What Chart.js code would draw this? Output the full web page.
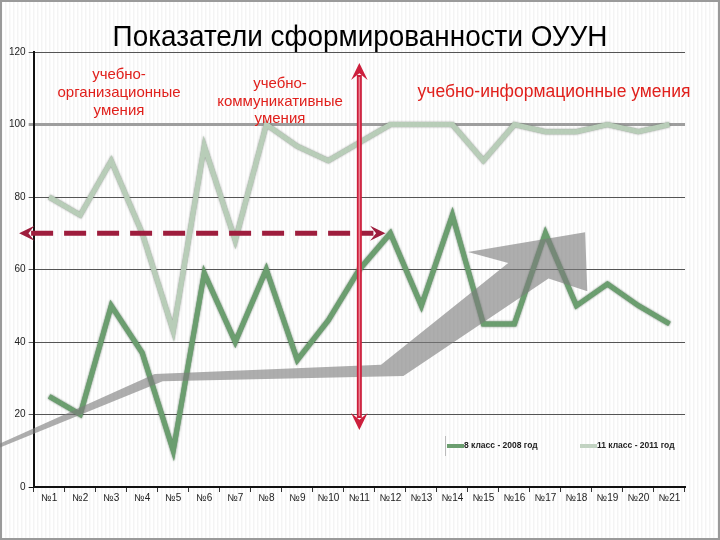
<!DOCTYPE html>
<html>
<head>
<meta charset="utf-8">
<script src="https://cdn.jsdelivr.net/npm/chart.js@4.4.0/dist/chart.umd.min.js"></script>
<style>
  html, body { margin: 0; padding: 0; background: #fff; }
  #wrap { width: 720px; height: 540px; position: relative; }
</style>
</head>
<body>
<div id="wrap"><canvas id="chart" width="720" height="540"></canvas></div>
<script>
const labels = ["№1","№2","№3","№4","№5","№6","№7","№8","№9","№10","№11","№12","№13","№14","№15","№16","№17","№18","№19","№20","№21"];
const grade8 = [25, 20, 50, 37, 10, 59, 40, 60, 35, 46, 60, 70, 50, 75, 45, 45, 70, 50, 56, 50, 45];
const grade11 = [80, 75, 90, 70, 43, 94, 68, 100, 94, 90, 95, 100, 100, 100, 90, 100, 98, 98, 100, 98, 100];
const yTicks = [0, 20, 40, 60, 80, 100, 120];
const title = "Показатели сформированности ОУУН";

// decorative arrow shapes, in [category index, value]
const growthArrow = [[-1.62, 11.9], [3.4, 31.2], [10.7, 33.7], [14.8, 61.8], [13.5, 64.8], [17.28, 70.3],
                     [17.35, 54.0], [16.1, 57.5], [11.42, 30.6], [3.66, 29.2], [-1.62, 10.8]];
const splitArrow = { x: 10, from: 15.7, to: 117 };
const levelArrow = { y: 70, from: -0.97, to: 10.84 };

const stripes = {
  id: "stripes",
  beforeDraw(chart) {
    const ctx = chart.ctx;
    ctx.save();
    ctx.fillStyle = "#fff";
    ctx.fillRect(0, 0, chart.width, chart.height);
    ctx.fillStyle = "rgba(0,0,0,0.045)";
    for (let x = 1; x < chart.width; x += 4) ctx.fillRect(x, 0, 1.5, chart.height);
    ctx.strokeStyle = "#9a9a9a";
    ctx.lineWidth = 2;
    ctx.strokeRect(1, 1, chart.width - 2, chart.height - 2);
    // title, condensed like the original
    ctx.fillStyle = "#000";
    ctx.font = "30px 'Liberation Sans', Arial, sans-serif";
    ctx.textAlign = "center";
    ctx.textBaseline = "alphabetic";
    ctx.translate(360, 46);
    ctx.scale(0.93, 1);
    ctx.fillText(title, 0, 0);
    ctx.restore();
  }
};

const lineShadow = {
  id: "lineShadow",
  beforeDatasetDraw(chart, args) {
    const ctx = chart.ctx;
    ctx.save();
    ctx.shadowColor = args.index === 0 ? "rgba(30,70,35,0.85)" : "rgba(90,100,90,0.75)";
    ctx.shadowBlur = 2;
  },
  afterDatasetDraw(chart) {
    chart.ctx.restore();
  }
};

function arrowHead(ctx, x, y, ang, size) {
  ctx.beginPath();
  ctx.moveTo(x, y);
  ctx.lineTo(x - size * Math.cos(ang - 0.45), y - size * Math.sin(ang - 0.45));
  ctx.lineTo(x - size * 0.55 * Math.cos(ang), y - size * 0.55 * Math.sin(ang));
  ctx.lineTo(x - size * Math.cos(ang + 0.45), y - size * Math.sin(ang + 0.45));
  ctx.closePath();
  ctx.fill();
}

const annotations = {
  id: "annotations",
  afterDatasetsDraw(chart) {
    const ctx = chart.ctx;
    const xs = chart.scales.x, ys = chart.scales.y;
    const px = i => xs.getPixelForValue(i);
    const py = v => ys.getPixelForValue(v);
    ctx.save();

    // grey growth arrow
    ctx.fillStyle = "rgba(125,125,125,0.62)";
    ctx.beginPath();
    growthArrow.forEach((p, i) => i ? ctx.lineTo(px(p[0]), py(p[1])) : ctx.moveTo(px(p[0]), py(p[1])));
    ctx.closePath();
    ctx.fill();

    // dashed level arrow
    const ly = py(levelArrow.y);
    const lx1 = px(levelArrow.from), lx2 = px(levelArrow.to);
    ctx.strokeStyle = "#9e1d3d";
    ctx.fillStyle = "#9e1d3d";
    ctx.lineWidth = 5;
    ctx.setLineDash([22, 11]);
    ctx.beginPath();
    ctx.moveTo(lx1 + 12, ly);
    ctx.lineTo(lx2 - 12, ly);
    ctx.stroke();
    ctx.setLineDash([]);
    arrowHead(ctx, lx1, ly, Math.PI, 17);
    arrowHead(ctx, lx2, ly, 0, 17);

    // vertical split arrow
    const vx = px(splitArrow.x);
    const vy1 = py(splitArrow.to), vy2 = py(splitArrow.from);
    ctx.strokeStyle = "#cc1f3c";
    ctx.fillStyle = "#cc1f3c";
    ctx.lineWidth = 5;
    ctx.beginPath();
    ctx.moveTo(vx, vy1 + 12);
    ctx.lineTo(vx, vy2 - 12);
    ctx.stroke();
    ctx.strokeStyle = "rgba(240,140,155,0.9)";
    ctx.lineWidth = 1.5;
    ctx.beginPath();
    ctx.moveTo(vx, vy1 + 14);
    ctx.lineTo(vx, vy2 - 14);
    ctx.stroke();
    arrowHead(ctx, vx, vy1, -Math.PI / 2, 19);
    arrowHead(ctx, vx, vy2, Math.PI / 2, 19);

    // section captions
    ctx.fillStyle = "#e0201c";
    ctx.textAlign = "center";
    ctx.textBaseline = "middle";
    ctx.font = "15px 'Liberation Sans', Arial, sans-serif";
    ["учебно-", "организационные", "умения"].forEach((t, i) => ctx.fillText(t, 119, 75 + i * 18));
    ["учебно-", "коммуникативные", "умения"].forEach((t, i) => ctx.fillText(t, 280, 84 + i * 17.5));
    ctx.font = "17.5px 'Liberation Sans', Arial, sans-serif";
    ctx.fillText("учебно-информационные умения", 554, 92);

    // legend
    ctx.strokeStyle = "#bbb";
    ctx.lineWidth = 1;
    ctx.beginPath();
    ctx.moveTo(445.5, 436);
    ctx.lineTo(445.5, 456);
    ctx.stroke();
    const items = [["8 класс - 2008 год", "#6b9e6f", 447], ["11 класс - 2011 год", "#c2d3c2", 580]];
    ctx.font = "bold 8.5px 'Liberation Sans', Arial, sans-serif";
    ctx.textAlign = "left";
    items.forEach(([t, c, x]) => {
      ctx.strokeStyle = c;
      ctx.lineWidth = 4;
      ctx.beginPath();
      ctx.moveTo(x, 446);
      ctx.lineTo(x + 17, 446);
      ctx.stroke();
      ctx.fillStyle = "#222";
      ctx.fillText(t, x + 17, 446);
    });
    ctx.restore();
  }
};

new Chart(document.getElementById("chart"), {
  type: "line",
  data: {
    labels: labels,
    datasets: [
      {
        label: "8 класс - 2008 год",
        data: grade8,
        borderColor: "#6b9e6f",
        borderWidth: 5,
        pointRadius: 0,
        tension: 0,
      },
      {
        label: "11 класс - 2011 год",
        data: grade11,
        borderColor: "#b8cdb8",
        borderWidth: 5,
        pointRadius: 0,
        tension: 0,
      },
    ],
  },
  options: {
    responsive: false,
    animation: false,
    layout: { padding: { left: 6, right: 35, top: 52, bottom: 36 } },
    plugins: {
      legend: { display: false },
      tooltip: { enabled: false },
      title: { display: false },
    },
    scales: {
      x: {
        offset: true,
        grid: { offset: true, drawOnChartArea: false, tickLength: 5, color: "#333" },
        border: { color: "#111", width: 2 },
        ticks: { color: "#222", font: { family: "'Liberation Sans', Arial, sans-serif", size: 10 }, maxRotation: 0, autoSkip: false, padding: 0 },
      },
      y: {
        min: 0,
        max: 120,
        afterBuildTicks: axis => { axis.ticks = yTicks.map(v => ({ value: v })); },
        grid: {
          tickLength: 5,
          color: c => c.tick.value === 100 ? "#9e9e9e" : c.tick.value === 0 ? "#111" : "#555",
          lineWidth: c => c.tick.value === 100 ? 3 : 1,
        },
        border: { color: "#111", width: 2 },
        ticks: { color: "#222", font: { family: "'Liberation Sans', Arial, sans-serif", size: 10 }, padding: 3 },
      },
    },
  },
  plugins: [stripes, lineShadow, annotations],
});
</script>
</body>
</html>
